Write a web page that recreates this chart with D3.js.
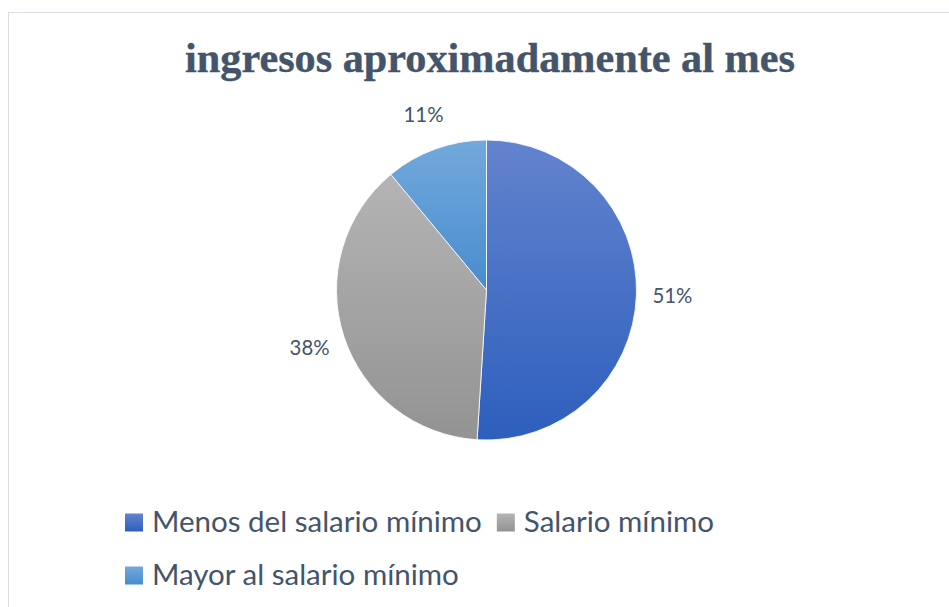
<!DOCTYPE html>
<html>
<head>
<meta charset="utf-8">
<script src="https://cdn.jsdelivr.net/npm/d3@7"></script>
<style>
  html, body { margin: 0; padding: 0; background: #fff; }
  svg { display: block; }
</style>
</head>
<body>
<div id="chart"></div>
<script>
// Data
var categories = ['Menos del salario mínimo', 'Salario mínimo', 'Mayor al salario mínimo'];
var shares = [51, 38, 11];
var titleText = 'ingresos aproximadamente al mes';

// Office-like gradient stops per slice (top, bottom)
var SLICE_TOP = ['#6383cd', '#b4b4b4', '#73a9dc'];
var SLICE_BOTTOM = ['#2d5fbd', '#939393', '#488cce'];

var W = 949, H = 607;
var TEXT_COLOR = '#44546a';
var SANS = 'Lato, "Open Sans", sans-serif';

var svg = d3.select('#chart').append('svg')
    .attr('width', W).attr('height', H);

// measure a string at 100px so fonts can be fitted to the reference widths
function fitSize(str, family, weight, target) {
    var t = svg.append('text').attr('font-family', family)
        .attr('font-weight', weight).attr('font-size', 100).text(str);
    var w = t.node().getComputedTextLength();
    t.remove();
    return 100 * target / w;
}

// chart frame (only top and left edges visible)
svg.append('rect')
    .attr('x', 8.5).attr('y', 12.5)
    .attr('width', W + 20).attr('height', H + 20)
    .attr('fill', '#fff')
    .attr('stroke', '#d9dee5').attr('stroke-width', 1);

var defs = svg.append('defs');
categories.forEach(function(c, i) {
    var g = defs.append('linearGradient').attr('id', 'grad' + i)
        .attr('x1', 0).attr('y1', 0).attr('x2', 0).attr('y2', 1);
    g.append('stop').attr('offset', '0%').attr('stop-color', SLICE_TOP[i]);
    g.append('stop').attr('offset', '100%').attr('stop-color', SLICE_BOTTOM[i]);
});

// Title
var SERIF = '"Liberation Serif", "Times New Roman", serif';
svg.append('text')
    .attr('x', 490).attr('y', 72)
    .attr('text-anchor', 'middle')
    .attr('font-family', SERIF)
    .attr('font-weight', 'bold')
    .attr('font-size', fitSize(titleText, SERIF, 'bold', 610))
    .attr('fill', TEXT_COLOR)
    .attr('stroke', TEXT_COLOR).attr('stroke-width', 0.4)
    .text(titleText);

// Pie
var cx = 486.5, cy = 290, R = 150;
var pie = d3.pie().sort(null).value(function(d) { return d; });
var arc = d3.arc().innerRadius(0).outerRadius(R);
var labelArc = d3.arc().innerRadius(186).outerRadius(186);
var arcs = pie(shares);

var pg = svg.append('g').attr('transform', 'translate(' + cx + ',' + cy + ')');
pg.selectAll('path').data(arcs).enter().append('path')
    .attr('d', arc)
    .attr('fill', function(d, i) { return 'url(#grad' + i + ')'; })
    .attr('stroke', '#fff')
    .attr('stroke-width', 0.8);

var total = d3.sum(shares);
var labelSize = fitSize('51%', SANS, 'normal', 40);
pg.selectAll('text.lbl').data(arcs).enter().append('text')
    .attr('class', 'lbl')
    .attr('transform', function(d) { return 'translate(' + labelArc.centroid(d) + ')'; })
    .attr('dy', '0.36em')
    .attr('text-anchor', 'middle')
    .attr('font-family', SANS)
    .attr('font-size', labelSize)
    .attr('fill', TEXT_COLOR)
    .text(function(d) { return Math.round(d.value / total * 100) + '%'; });

// Legend, flowing left to right and wrapping
var legSize = fitSize(categories[0], SANS, 'normal', 330);
var lg = svg.append('g');
var lx = 125, ly = 532, box = 18, maxX = 760;
categories.forEach(function(c, i) {
    var item = lg.append('g');
    var t = item.append('text')
        .attr('x', box + 9).attr('y', 0)
        .attr('font-family', SANS)
        .attr('font-size', legSize)
        .attr('fill', TEXT_COLOR)
        .text(c);
    var w = box + 9 + t.node().getComputedTextLength();
    if (lx + w > maxX && lx > 125) { lx = 125; ly += 53; }
    item.attr('transform', 'translate(' + lx + ',' + ly + ')');
    item.insert('rect', 'text')
        .attr('x', 0).attr('y', -box - 0.5)
        .attr('width', box).attr('height', box)
        .attr('fill', 'url(#grad' + i + ')');
    lx += w + 15;
});
</script>
</body>
</html>
